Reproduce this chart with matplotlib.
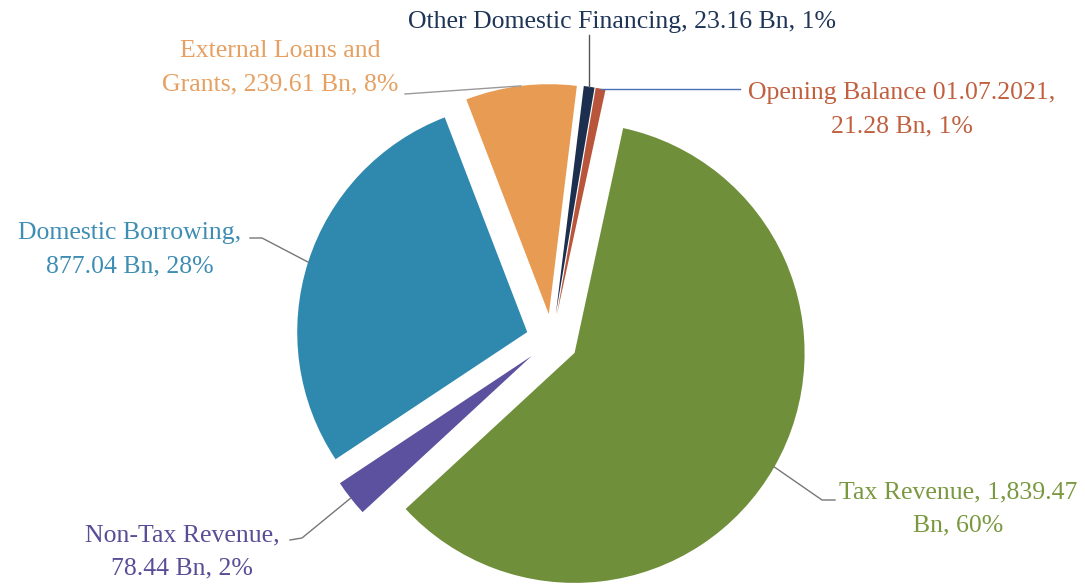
import numpy as np
import matplotlib.pyplot as plt

# data (clockwise from the top of the pie)
names = ['Other Domestic Financing', 'Opening Balance 01.07.2021', 'Tax Revenue',
         'Non-Tax Revenue', 'Domestic Borrowing', 'External Loans and Grants']
values = [23.16, 21.28, 1839.47, 78.44, 877.04, 239.61]
pcts = [1, 1, 60, 2, 28, 8]
label_text = ['Other Domestic Financing, 23.16 Bn, 1%',
              'Opening Balance 01.07.2021,\n21.28 Bn, 1%',
              'Tax Revenue, 1,839.47\nBn, 60%',
              'Non-Tax Revenue,\n78.44 Bn, 2%',
              'Domestic Borrowing,\n877.04 Bn, 28%',
              'External Loans and\nGrants, 239.61 Bn, 8%']

slice_colors = ['#1d2f4f', '#b9553b', '#6f8f3a', '#5b519e', '#2f88ad', '#e89b52']
text_colors = ['#1f3557', '#c0603f', '#7a9840', '#5a4c96', '#3f8db3', '#e6a062']
line_colors = ['#555555', '#4a6fb5', '#777777', '#777777', '#777777', '#999999']

W, H = 1085, 587
plt.rcParams['font.family'] = ['Liberation Serif', 'DejaVu Serif']

fig = plt.figure(figsize=(W / 100, H / 100), dpi=100)
ax = fig.add_axes([0, 0, 1, 1])

# radius and explode offset in pixels
R = 230
wedges, _ = ax.pie(values, colors=slice_colors, startangle=83, counterclock=False,
                   explode=[26] * len(values), radius=R, center=(552, H - 340),
                   wedgeprops=dict(linewidth=0))
ax.set_xlim(0, W)
ax.set_ylim(0, H)
ax.set_aspect('equal')
ax.axis('off')

# label layout: text centre (pixels from top-left) and leader start points
text_pos = [(622, 22), (902, 110), (958, 509), (182, 552), (130, 250), (280, 68)]
leader_pts = [[(None, 35)], [(740, None)], [(835, 500), (822, 500)],
              [(290, 540), (302, 538)], [(250, 238), (262, 238)], [(405, 94)]]

for i, w in enumerate(wedges):
    mid = np.deg2rad((w.theta1 + w.theta2) / 2)
    wx = w.center[0] + w.r * np.cos(mid)
    wy = w.center[1] + w.r * np.sin(mid)
    tx, ty = text_pos[i]
    ax.text(tx, H - ty, label_text[i], ha='center', va='center', fontsize=18.5,
            color=text_colors[i], linespacing=1.65)
    xs, ys = [], []
    for px, py in leader_pts[i]:
        xs.append(wx if px is None else px)
        ys.append(wy if py is None else H - py)
    xs.append(wx)
    ys.append(wy)
    ax.plot(xs, ys, color=line_colors[i], lw=1)

fig.savefig('out.png', dpi=100, facecolor='white')
